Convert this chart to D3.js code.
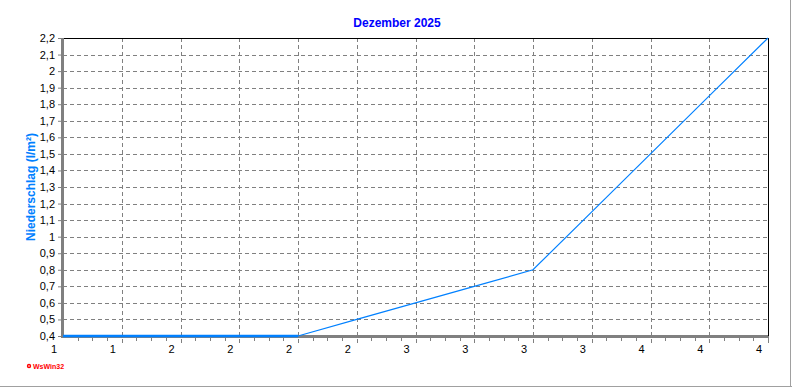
<!DOCTYPE html>
<html>
<head>
<meta charset="utf-8">
<script src="https://cdn.jsdelivr.net/npm/d3@7"></script>
<style>
  body { margin: 0; background: #fff; }
  svg { display: block; font-family: "Liberation Sans", Arial, sans-serif; }
</style>
</head>
<body>
<svg id="chart" width="792" height="387"></svg>
<script>
// data (one point per grid step)
const steps = [0, 1, 2, 3, 4, 5, 6, 7, 8, 9, 10, 11, 12]
const rain = [0.4, 0.4, 0.4, 0.4, 0.4, 0.5, 0.6, 0.7, 0.8, 1.15, 1.5, 1.85, 2.2]
const xLabels = ["1", "1", "2", "2", "2", "2", "3", "3", "3", "3", "4", "4", "4"]
const yTicks = [0.4, 0.5, 0.6, 0.7, 0.8, 0.9, 1, 1.1, 1.2, 1.3, 1.4, 1.5, 1.6, 1.7, 1.8, 1.9, 2, 2.1, 2.2]

const margin = { top: 38, right: 24, bottom: 51, left: 63 }
const W = 792, H = 387
const svg = d3.select("#chart")

const x = d3.scaleLinear().domain([0, 12]).range([margin.left, W - margin.right])
const y = d3.scaleLinear().domain([0.4, 2.2]).range([H - margin.bottom, margin.top])
const de = d3.formatLocale({ decimal: ",", thousands: ".", grouping: [3], currency: ["", " €"] })
const fmt = de.format(".1~f")
const dash = "4,3"

// outer frame (right + bottom gray edge)
svg.append("line").attr("x1", 790.5).attr("x2", 790.5).attr("y1", 0).attr("y2", 387).attr("stroke", "#a0a0a0")
svg.append("line").attr("x1", 0).attr("x2", 792).attr("y1", 386.5).attr("y2", 386.5).attr("stroke", "#a0a0a0")

// horizontal grid
svg.append("g").selectAll("line")
  .data(yTicks.slice(1, -1))
  .join("line")
    .attr("x1", x(0)).attr("x2", x(12))
    .attr("y1", d => Math.round(y(d)) + 0.5).attr("y2", d => Math.round(y(d)) + 0.5)
    .attr("stroke", "#808080").attr("stroke-dasharray", dash)

// vertical grid, running a bit below the axis as major ticks
svg.append("g").selectAll("line")
  .data(steps.slice(1, -1))
  .join("line")
    .attr("x1", d => Math.round(x(d)) + 0.5).attr("x2", d => Math.round(x(d)) + 0.5)
    .attr("y1", y(2.2)).attr("y2", y(0.4) + 7)
    .attr("stroke", "#808080").attr("stroke-dasharray", dash)

// minor x ticks
const minor = d3.range(0, 12, 0.25).filter(d => d % 1 !== 0)
svg.append("g").selectAll("line")
  .data(minor)
  .join("line")
    .attr("x1", d => Math.round(x(d)) + 0.5).attr("x2", d => Math.round(x(d)) + 0.5)
    .attr("y1", y(0.4)).attr("y2", y(0.4) + 5)
    .attr("stroke", "#808080")

// top + right black border
svg.append("line").attr("x1", x(0)).attr("x2", x(12) + 1).attr("y1", y(2.2) + 0.5).attr("y2", y(2.2) + 0.5).attr("stroke", "#000")
svg.append("line").attr("x1", Math.round(x(12)) + 0.5).attr("x2", Math.round(x(12)) + 0.5).attr("y1", y(2.2)).attr("y2", y(0.4)).attr("stroke", "#000")
svg.append("line").attr("x1", Math.round(x(12)) + 0.5).attr("x2", Math.round(x(12)) + 0.5).attr("y1", y(0.4)).attr("y2", y(0.4) + 7).attr("stroke", "#808080")

// y axis
const yAxis = svg.append("g")
  .attr("transform", `translate(${x(0) - 1},0)`)
  .call(d3.axisLeft(y).tickValues(yTicks).tickFormat(fmt).tickSize(4).tickPadding(3))
yAxis.select(".domain").remove()
yAxis.selectAll(".tick line").attr("stroke", "#808080")
yAxis.selectAll("text").attr("font-size", 11).attr("fill", "#000")

// axis lines (thick gray)
svg.append("line").attr("x1", x(0) - 0.5).attr("x2", x(0) - 0.5).attr("y1", y(2.2)).attr("y2", y(0.4) + 2).attr("stroke", "#808080").attr("stroke-width", 3)
svg.append("line").attr("x1", x(0) - 2).attr("x2", x(12)).attr("y1", y(0.4) + 0.5).attr("y2", y(0.4) + 0.5).attr("stroke", "#808080").attr("stroke-width", 3)

// x labels
svg.append("g").selectAll("text")
  .data(steps)
  .join("text")
    .attr("x", d => x(d) - 9)
    .attr("y", 353)
    .attr("text-anchor", "middle")
    .attr("font-size", 11)
    .text((d, i) => xLabels[i])

// series line
const line = d3.line().x(d => x(d[0])).y(d => y(d[1]))
svg.append("path")
  .datum(steps.map((s, i) => [s, rain[i]]))
  .attr("d", line)
  .attr("fill", "none")
  .attr("stroke", "#0080ff")
  .attr("stroke-width", 1.2)
// flat part sits on the axis and shows thicker
svg.append("path")
  .datum(steps.filter((s, i) => rain[i] === 0.4).map(s => [s, 0.4]))
  .attr("d", line)
  .attr("fill", "none")
  .attr("stroke", "#0080ff")
  .attr("stroke-width", 2.5)

// title
svg.append("text")
  .attr("x", 397).attr("y", 27)
  .attr("text-anchor", "middle")
  .attr("font-size", 12).attr("font-weight", "bold")
  .attr("fill", "#0000ff")
  .text("Dezember 2025")

// y title
svg.append("text")
  .attr("transform", "translate(35,187) rotate(-90)")
  .attr("text-anchor", "middle")
  .attr("font-size", 12).attr("font-weight", "bold")
  .attr("fill", "#0080ff")
  .text("Niederschlag  (l/m²)")

// logo
svg.append("circle").attr("cx", 29).attr("cy", 366).attr("r", 2.2).attr("fill", "#ff0000")
svg.append("circle").attr("cx", 29).attr("cy", 366).attr("r", 0.8).attr("fill", "#fff")
svg.append("text")
  .attr("x", 33).attr("y", 369)
  .attr("font-size", 7).attr("font-weight", "bold")
  .attr("fill", "#ff0000")
  .text("WsWin32")
</script>
</body>
</html>
